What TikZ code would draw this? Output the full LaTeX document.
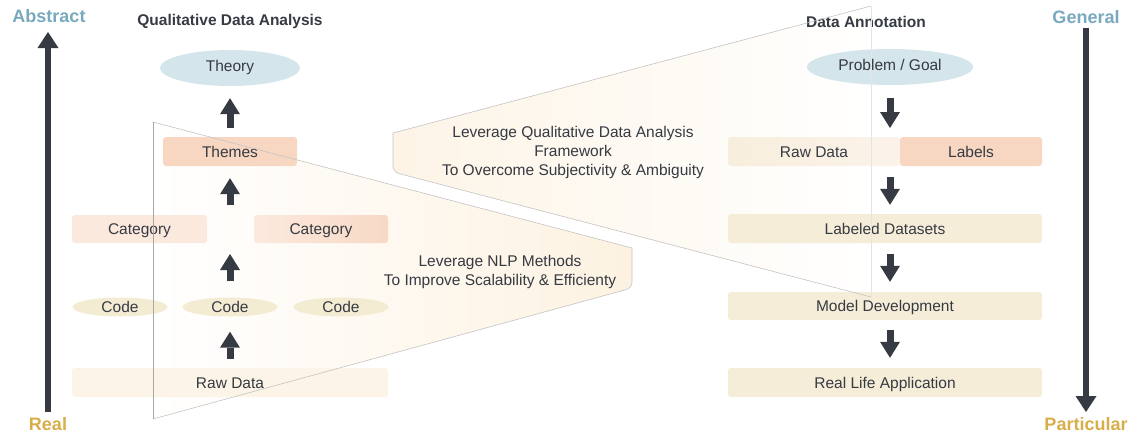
\documentclass[tikz,border=0pt]{standalone}
\usepackage{fontspec}
\setmainfont{Liberation Sans}
\usetikzlibrary{arrows.meta,shapes.geometric}
\pgfdeclarelayer{background}
\pgfdeclarelayer{foreground}
\pgfsetlayers{background,main,foreground}

\definecolor{ink}{HTML}{363A42}
\definecolor{steel}{HTML}{79A9BF}
\definecolor{gold}{HTML}{D8AE4A}
\definecolor{skyfill}{HTML}{D5E5EC}
\definecolor{peach}{HTML}{F7D7C2}
\definecolor{peachdeep}{HTML}{F7D9C5}
\definecolor{blush}{HTML}{FCE9DE}
\definecolor{tan}{HTML}{F4EBD3}
\definecolor{cream}{HTML}{FBF4E7}
\definecolor{sand}{HTML}{F6EDD9}
\definecolor{rawleft}{HTML}{F8EEDD}
\definecolor{rawright}{HTML}{FBF3EA}
\definecolor{nlpwash}{HTML}{FDF2E1}
\definecolor{qdawash}{HTML}{FDF4E6}
\definecolor{edge}{HTML}{C4C4C4}
\definecolor{edgedark}{HTML}{A8A8A8}
\definecolor{edgefaint}{HTML}{E4E4E4}

\begin{document}
\begin{tikzpicture}[x=1pt,y=-1pt,
  body/.style={font=\fontsize{15.5}{19}\selectfont, text=ink},
  box/.style={body, rounded corners=3pt, inner sep=0pt, minimum height=29pt,
    text height=11pt, text depth=0pt},
  oval/.style={body, ellipse, inner sep=0pt, text height=11pt, text depth=0pt},
  title/.style={font=\bfseries\fontsize{15.5}{19}\selectfont, text=ink},
  axislabel/.style={font=\bfseries\fontsize{18}{22}\selectfont},
  blockarrow/.style={draw=ink, line width=7pt,
    -{Triangle[width=20pt,length=16pt,line width=0pt]}},
  axisarrow/.style={draw=ink, line width=6.5pt,
    -{Triangle[width=21pt,length=16pt,line width=0pt]}},
  frame/.style={draw=edge, line width=0.6pt},
]
\useasboundingbox (0,0) rectangle (1129,434);

% ---- translucent "projection" panels behind the boxes ----
\begin{pgfonlayer}{background}
  \shade[left color=white, right color=nlpwash]
    (153,419) -- (153,122) -- (632,248) [rounded corners=6pt] -- (632,288) -- (153,419);
  \shade[left color=qdawash, right color=white]
    (871,297) -- (871,6) -- (393,133) [rounded corners=6pt] -- (393,172) -- (871,297);
\end{pgfonlayer}

\begin{pgfonlayer}{foreground}
  \draw[frame] (153,122) -- (632,248) [rounded corners=6pt] -- (632,288) -- (153,419);
  \draw[draw=edgedark, line width=0.6pt] (153,122) -- (153,419);
  \draw[frame] (871,6) -- (393,133) [rounded corners=6pt] -- (393,172) -- (871,297);
  \draw[draw=edgefaint, line width=0.6pt] (871,6) -- (871,297);
\end{pgfonlayer}

% ---- panel captions ----
\node[body, align=center] (nlpNote) at (500,272)
  {Leverage NLP Methods\\To Improve Scalability \& Efficienty};
\node[body, align=center] (qdaNote) at (573,152)
  {Leverage Qualitative Data Analysis\\Framework\\To Overcome Subjectivity \& Ambiguity};

% ---- titles ----
\node[title] (qdaTitle) at (230,21.5) {Qualitative Data Analysis};
\node[title] (annTitle) at (866,22) {Data Annotation};

% ---- qualitative data analysis column ----
\node[oval, fill=skyfill, minimum width=140pt, minimum height=36pt, text depth=4pt] (theory) at (230,68) {Theory};
\node[box, fill=peach, minimum width=134pt] (themes) at (230,151.5) {Themes};
\node[box, fill=blush, minimum width=135pt, minimum height=28pt] (catA) at (139.5,229) {Category};
\node[box, left color=blush, right color=peachdeep, minimum width=134pt, minimum height=28pt] (catB) at (321,229) {Category};
\coordinate (catTop) at (230,215);
\coordinate (catBot) at (230,243);
\node[oval, fill=tan, minimum width=95pt, minimum height=19pt] (codeA) at (120,307) {Code};
\node[oval, fill=tan, minimum width=95pt, minimum height=19pt] (codeB) at (230,307) {Code};
\node[oval, fill=tan, minimum width=95pt, minimum height=19pt] (codeC) at (341,307) {Code};
\node[box, fill=cream, minimum width=316pt] (rawA) at (230,382.5) {Raw Data};

\draw[blockarrow, shorten <=9pt, shorten >=12pt] (themes) -- (theory);
\draw[blockarrow, shorten <=10pt, shorten >=12pt] (catTop) -- (themes);
\draw[blockarrow, shorten <=16pt, shorten >=11pt] (codeB) -- (catBot);
\draw[blockarrow, shorten <=9pt, shorten >=15pt] (rawA) -- (codeB);

% ---- data annotation column ----
\node[oval, fill=skyfill, minimum width=166pt, minimum height=36pt, text depth=4pt] (goal) at (890,67) {Problem / Goal};
\node[box, left color=rawleft, right color=rawright, minimum width=172pt] (rawB) at (814,151.5) {Raw Data};
\node[box, fill=peach, minimum width=142pt] (labels) at (971,151.5) {Labels};
\coordinate (pairTop) at (890,137);
\coordinate (pairBot) at (890,166);
\node[box, fill=sand, minimum width=314pt] (labeled) at (885,228.5) {Labeled Datasets};
\node[box, fill=sand, minimum width=314pt, minimum height=28pt] (model) at (885,306) {Model Development};
\node[box, fill=sand, minimum width=314pt] (app) at (885,382.5) {Real Life Application};

\draw[blockarrow, shorten <=13pt, shorten >=9pt] (goal.south) -- (pairTop);
\draw[blockarrow, shorten <=11pt, shorten >=9pt] (pairBot) -- (labeled.north -| goal);
\draw[blockarrow, shorten <=11pt, shorten >=10pt] (labeled.south -| goal) -- (model.north -| goal);
\draw[blockarrow, shorten <=10pt, shorten >=10pt] (model.south -| goal) -- (app.north -| goal);

% ---- abstraction axes ----
\node[axislabel, text=steel] (abstract) at (49,16) {Abstract};
\node[axislabel, text=gold] (real) at (48,424) {Real};
\node[axislabel, text=steel] (general) at (1086,17) {General};
\node[axislabel, text=gold] (particular) at (1086,424) {Particular};
\coordinate (lowL) at (48,412);
\coordinate (highL) at (48,32);
\coordinate (highR) at (1086,28);
\coordinate (lowR) at (1086,412);
\draw[axisarrow] (lowL) -- (highL);
\draw[axisarrow] (highR) -- (lowR);
\end{tikzpicture}
\end{document}
